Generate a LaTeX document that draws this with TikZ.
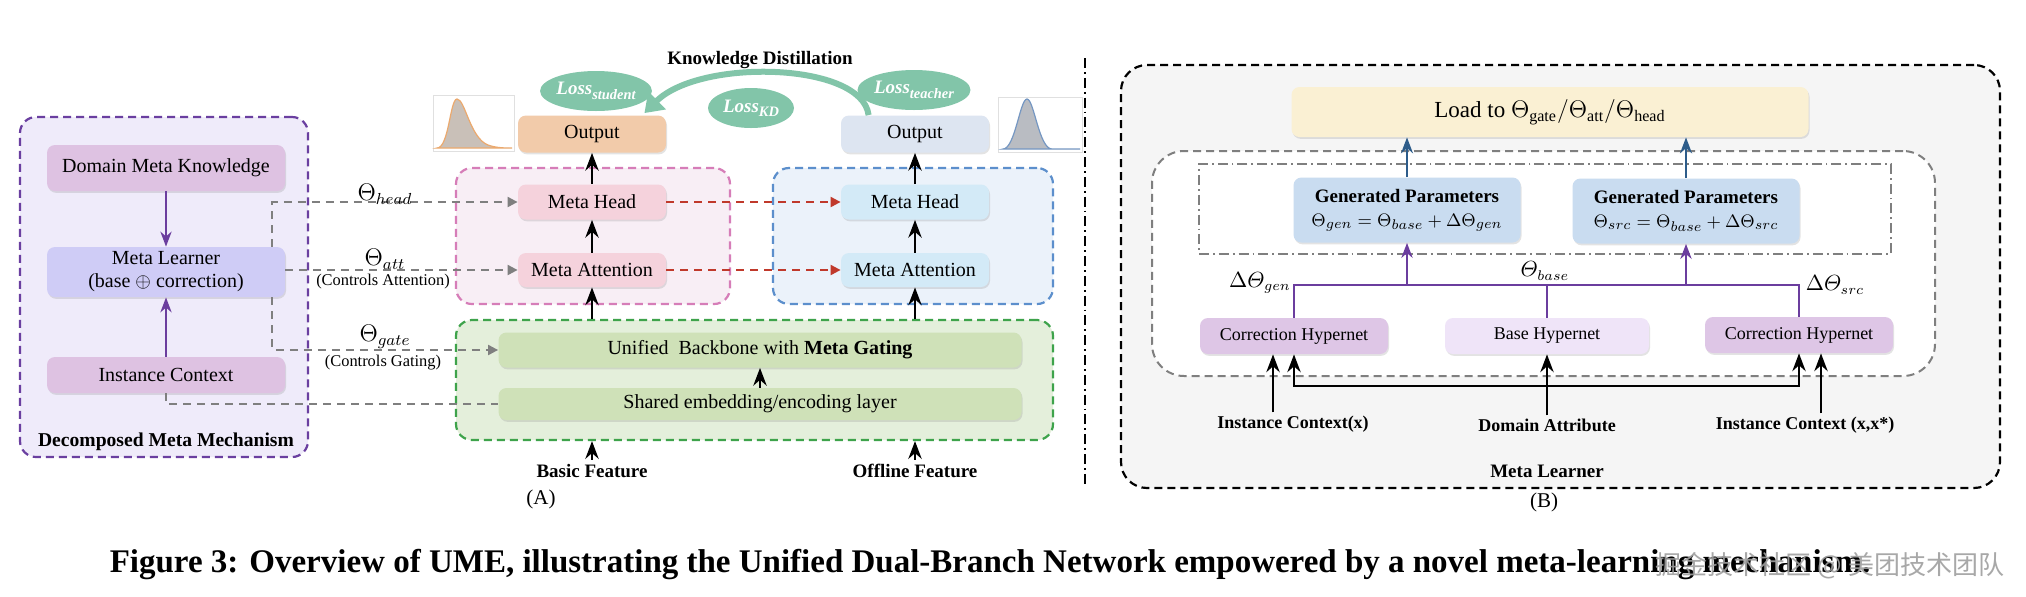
\documentclass[tikz,border=0pt]{standalone}
\usepackage{fontspec}
\usepackage{amsmath}
\setmainfont{Liberation Serif}
\newfontfamily\cjkfont{Noto Sans CJK SC}
\usetikzlibrary{arrows.meta, positioning, calc, fit, backgrounds, shadows, shapes.geometric}
\definecolor{dmmline}{HTML}{6A3FA0}
\definecolor{dmmbg}{HTML}{EFEBFA}
\definecolor{dmkfill}{HTML}{DEC2E2}
\definecolor{mlfill}{HTML}{CFCCF6}
\definecolor{purpleline}{HTML}{6B3D9E}
\definecolor{gdash}{HTML}{7F7F7F}
\definecolor{stuline}{HTML}{D67DB8}
\definecolor{stubg}{HTML}{F8EEF5}
\definecolor{stufill}{HTML}{F5D2DC}
\definecolor{outsfill}{HTML}{F2CBAA}
\definecolor{tealine}{HTML}{5C8FCC}
\definecolor{teabg}{HTML}{EBF2FA}
\definecolor{teafill}{HTML}{D3EAF7}
\definecolor{outtfill}{HTML}{DDE5F1}
\definecolor{bbline}{HTML}{3EA34B}
\definecolor{bbbg}{HTML}{E4EFDB}
\definecolor{bbfill}{HTML}{CFE1B8}
\definecolor{kdred}{HTML}{C0392B}
\definecolor{lossgreen}{HTML}{82C5A9}
\definecolor{mlbg}{HTML}{F5F5F5}
\definecolor{loadfill}{HTML}{FAF0D3}
\definecolor{genfill}{HTML}{C9DCF0}
\definecolor{genarrow}{HTML}{2D5C8A}
\definecolor{chfill}{HTML}{DEC6E6}
\definecolor{bhfill}{HTML}{EFE4F8}
\definecolor{distfill}{HTML}{C9C0B8}
\definecolor{distorange}{HTML}{EBA96E}
\definecolor{distgray}{HTML}{B9BCC2}
\definecolor{distblue}{HTML}{7597C2}

\newcommand{\losslbl}[1]{\textbf{\textit{Loss}}\raisebox{-2.2pt}{\fontsize{7.2}{8}\selectfont\bfseries\itshape #1}}

\begin{document}
\begin{tikzpicture}[
    x=0.5pt, y=-0.5pt,
    >=Stealth,
    font=\fontsize{10}{11.5}\selectfont,
    every node/.style={inner sep=0pt},
    panelbox/.style={
        rounded corners=8pt, line width=1.1pt,
        dash pattern=on 4pt off 2.5pt
    },
    mbox/.style={
        rounded corners=4pt, minimum width=119pt, minimum height=23pt,
        align=center, font=\fontsize{10}{11.5}\selectfont,
        drop shadow={opacity=0.22, shadow xshift=0.5pt, shadow yshift=-0.9pt}
    },
    sbox/.style={
        rounded corners=4pt, minimum width=74pt, minimum height=17.5pt,
        align=center,
        drop shadow={opacity=0.22, shadow xshift=0.5pt, shadow yshift=-0.9pt}
    },
    hbox/.style={
        rounded corners=4pt, minimum width=94pt, minimum height=18pt,
        align=center, font=\fontsize{9}{10.5}\selectfont,
        drop shadow={opacity=0.22, shadow xshift=0.5pt, shadow yshift=-0.9pt}
    },
    losscloud/.style={
        ellipse, fill=lossgreen, minimum width=45pt, minimum height=20pt,
        text=white, font=\fontsize{9.5}{10}\selectfont
    },
    thlbl/.style={font=\fontsize{12}{13}\selectfont},
    ctllbl/.style={font=\fontsize{8.2}{9}\selectfont},
    featlbl/.style={font=\fontsize{9.5}{11}\selectfont\bfseries},
    titlelbl/.style={font=\fontsize{9.8}{11}\selectfont\bfseries},
    barr/.style={->, line width=1.3pt, black},
    parr/.style={->, line width=1pt, purpleline},
    pline/.style={line width=1pt, purpleline},
    garr/.style={-{Triangle[width=5pt,length=5pt]}, line width=1pt, gdash,
        dash pattern=on 4pt off 3pt},
    gline/.style={line width=1pt, gdash, dash pattern=on 4pt off 3pt},
    rarr/.style={-{Triangle[width=5pt,length=5pt]}, line width=1pt, kdred,
        dash pattern=on 4pt off 3pt},
    narr/.style={->, line width=1.1pt, genarrow},
    kdarr/.style={-{Triangle[width=12pt,length=9pt]}, line width=3pt, lossgreen},
    dashdotline/.style={dash pattern=on 5pt off 2pt on 0.9pt off 2pt},
]

% === canvas ===
\fill[white] (0,0) rectangle (2026,596);
\useasboundingbox (0,0) rectangle (2026,596);

% === panels ===
\node[panelbox, draw=dmmline, fill=dmmbg, fit={(20,117) (308,457)}] (dmm) {};
\node[panelbox, draw=stuline, fill=stubg, fit={(456,168) (730,304)}] (stu) {};
\node[panelbox, draw=tealine, fill=teabg, fit={(773,168) (1053,304)}] (tea) {};
\node[panelbox, draw=bbline, fill=bbbg, fit={(456,320) (1053,440)}] (bbp) {};
\node[panelbox, draw=black, fill=mlbg, rounded corners=13pt,
      fit={(1121,65) (2000,488)}] (mlp) {};
\node[panelbox, draw=gdash, fill=white, rounded corners=16pt, line width=1pt,
      fit={(1152,151) (1935,376)}] (hyp) {};
\node[draw=gdash, line width=1pt, dashdotline, fit={(1199,164) (1891,254)}] (gen) {};

% divider between (A) and (B)
\draw[line width=1pt, dashdotline] (1085,58) -- (1085,484);

% === output distributions ===
\draw[black!12, fill=white] (433,95) rectangle (514,151);
\draw[fill=distfill, draw=distorange, line width=0.6pt]
    (437,148) .. controls (449,148) and (450,99) .. (457,99)
    .. controls (465,99) and (470,138) .. (488,145)
    .. controls (496,148) and (505,148) .. (512,148) -- cycle;
\draw[black!12, fill=white] (998,97) rectangle (1082,152);
\draw[fill=distgray, draw=distblue, line width=0.6pt]
    (1003,149) .. controls (1015,149) and (1020,99) .. (1027,99)
    .. controls (1034,99) and (1039,149) .. (1052,149) -- (1080,149) -- cycle;

% === Decomposed Meta Mechanism ===
\node[mbox, fill=dmkfill] (dmk) at (166,168) {Domain Meta Knowledge};
\node[mbox, fill=mlfill, minimum height=25pt] (ml) at (166,272)
    {Meta Learner\\(base $\oplus$ correction)};
\node[mbox, fill=dmkfill, minimum height=18pt] (ic) at (166,375) {Instance Context};
\node[titlelbl] (dmmlbl) at (166,442) {Decomposed Meta Mechanism};
\draw[parr] (dmk.south) -- (ml.north);
\draw[parr] (ic.north) -- (ml.south);

% === student / teacher branches ===
\node[sbox, fill=outsfill, minimum height=18.5pt] (outs) at (592,134) {Output};
\node[sbox, fill=stufill] (mhs) at (592,202) {Meta Head};
\node[sbox, fill=stufill, minimum height=17pt] (mas) at (592,270) {Meta Attention};
\node[sbox, fill=outtfill, minimum height=18.5pt] (outt) at (915,134) {Output};
\node[sbox, fill=teafill] (mht) at (915,202) {Meta Head};
\node[sbox, fill=teafill, minimum height=17pt] (mat) at (915,270) {Meta Attention};

% === shared backbone ===
\node[sbox, fill=bbfill, minimum width=261.5pt] (ubb) at (760,350)
    {Unified\ \ Backbone with \textbf{Meta Gating}};
\node[sbox, fill=bbfill, minimum width=261.5pt, minimum height=16pt] (shr) at (760,404)
    {Shared embedding/encoding layer};

\node[featlbl] (bf) at (592,471) {Basic Feature};
\node[featlbl] (of) at (915,471) {Offline Feature};
\node[font=\fontsize{10.5}{12}\selectfont] (alab) at (541,499) {(A)};

\draw[barr] (shr.north) -- (ubb.south);
\draw[barr] (mas.south |- bbp.north) -- (mas.south);
\draw[barr] (mat.south |- bbp.north) -- (mat.south);
\draw[barr] (mas.north) -- (mhs.south);
\draw[barr] (mat.north) -- (mht.south);
\draw[barr] (mhs.north) -- (outs.south);
\draw[barr] (mht.north) -- (outt.south);
\draw[barr] ($(bf.north)+(0,-4)$) -- (bf.north |- bbp.south);
\draw[barr] ($(of.north)+(0,-4)$) -- (of.north |- bbp.south);

\draw[rarr] (mhs.east) -- (mht.west);
\draw[rarr] (mas.east) -- (mat.west);

% === meta parameters into the network ===
\draw[garr] ($(ml.north east)+(-13,0)$) |- (mhs.west);
\draw[garr] (ml.east |- mas.west) -- (mas.west);
\draw[garr] ($(ml.south east)+(-13,0)$) |- (ubb.west);
\draw[gline] (ic.south) |- (shr.west);

\node[thlbl] (thhead) at (385,194) {$\Theta_{head}$};
\node[thlbl] (thatt) at (385,259) {$\Theta_{att}$};
\node[ctllbl] (ctlatt) at (383,282) {(Controls Attention)};
\node[thlbl] (thgate) at (385,337) {$\Theta_{gate}$};
\node[ctllbl] (ctlgate) at (383,363) {(Controls Gating)};

% === knowledge distillation ===
\node[titlelbl, font=\fontsize{9.5}{11}\selectfont\bfseries] (kd) at (760,60) {Knowledge Distillation};
\node[losscloud] (lstu) at (596,91) {\losslbl{student}};
\node[losscloud, minimum width=43pt] (lkd) at (751,108) {\losslbl{KD}};
\node[losscloud] (ltea) at (914,90) {\losslbl{teacher}};
\draw[kdarr] ($(outt.north west)+(28,0)$) .. controls (862,62) and (700,58)
    .. ($(outs.north east)+(-22,-2)$);

% === Meta Learner (B) ===
\node[rounded corners=4pt, fill=loadfill, minimum width=258.5pt, minimum height=25pt,
      font=\fontsize{11.5}{13}\selectfont,
      drop shadow={opacity=0.22, shadow xshift=0.5pt, shadow yshift=-0.9pt}] (load) at (1550,112)
    {Load to $\Theta_{\mathrm{gate}}/\Theta_{\mathrm{att}}/\Theta_{\mathrm{head}}$};
\node[sbox, fill=genfill, minimum width=113.5pt, minimum height=32.5pt,
      font=\fontsize{9.5}{12}\selectfont] (gpl) at (1407,210)
    {\textbf{Generated Parameters}\\$\Theta_{gen}=\Theta_{base}+\Delta\Theta_{gen}$};
\node[sbox, fill=genfill, minimum width=113.5pt, minimum height=32.5pt,
      font=\fontsize{9.5}{12}\selectfont] (gpr) at (1686,211)
    {\textbf{Generated Parameters}\\$\Theta_{src}=\Theta_{base}+\Delta\Theta_{src}$};
\node[hbox, fill=chfill] (chl) at (1294,336) {Correction Hypernet};
\node[hbox, fill=bhfill, minimum width=102pt] (bh) at (1547,336) {Base Hypernet};
\node[hbox, fill=chfill] (chr) at (1799,335) {Correction Hypernet};

\draw[narr] (gpl.north) -- (gpl.north |- load.south);
\draw[narr] (gpr.north) -- (gpr.north |- load.south);

\coordinate (bar) at (1547,285);
\draw[pline] (chl.north) |- (bar) -| (chr.north);
\draw[pline] (bh.north) -- (bh.north |- bar);
\draw[parr] (gpl.south |- bar) -- (gpl.south);
\draw[parr] (gpr.south |- bar) -- (gpr.south);

\node[font=\fontsize{10.5}{11}\selectfont] (dgen) at (1260,283) {$\Delta\varTheta_{gen}$};
\node[font=\fontsize{10.5}{11}\selectfont] (tbase) at (1545,271) {$\varTheta_{base}$};
\node[font=\fontsize{10.5}{11}\selectfont] (dsrc) at (1835,285) {$\Delta\varTheta_{src}$};

\node[featlbl, font=\fontsize{9}{10}\selectfont\bfseries] (icx) at (1293,424) {Instance Context(x)};
\node[featlbl, font=\fontsize{9}{10}\selectfont\bfseries] (da) at (1547,425) {Domain Attribute};
\node[featlbl, font=\fontsize{9}{10}\selectfont\bfseries] (icxs) at (1805,425) {Instance Context (x,x*)};

\coordinate (brk) at (1547,386);
\draw[line width=1.3pt, Stealth-Stealth] (chl.south) |- (brk) -| (chr.south);
\draw[barr] ($(icx.north)+(-20,-3)$) -- ($(chl.south)+(-21,0)$);
\draw[barr] ($(da.north)+(0,-3)$) -- (bh.south);
\draw[barr] ($(icxs.north)+(16,-3)$) -- ($(chr.south)+(22,0)$);

\node[titlelbl, font=\fontsize{9.5}{11}\selectfont\bfseries] (mllbl) at (1547,471) {Meta Learner};
\node[font=\fontsize{10.5}{12}\selectfont] (blab) at (1544,502) {(B)};

% === caption ===
\node[font=\fontsize{16.5}{18}\selectfont\bfseries] (cap) at (990,565)
    {Figure 3: Overview of UME, illustrating the Unified Dual-Branch Network empowered by a novel meta-learning mechanism.};
\node[font=\fontsize{13}{14}\selectfont\cjkfont, text=gray!75, opacity=0.9] (wm) at (1830,566)
    {掘金技术社区 @ 美团技术团队};

\end{tikzpicture}
\end{document}
